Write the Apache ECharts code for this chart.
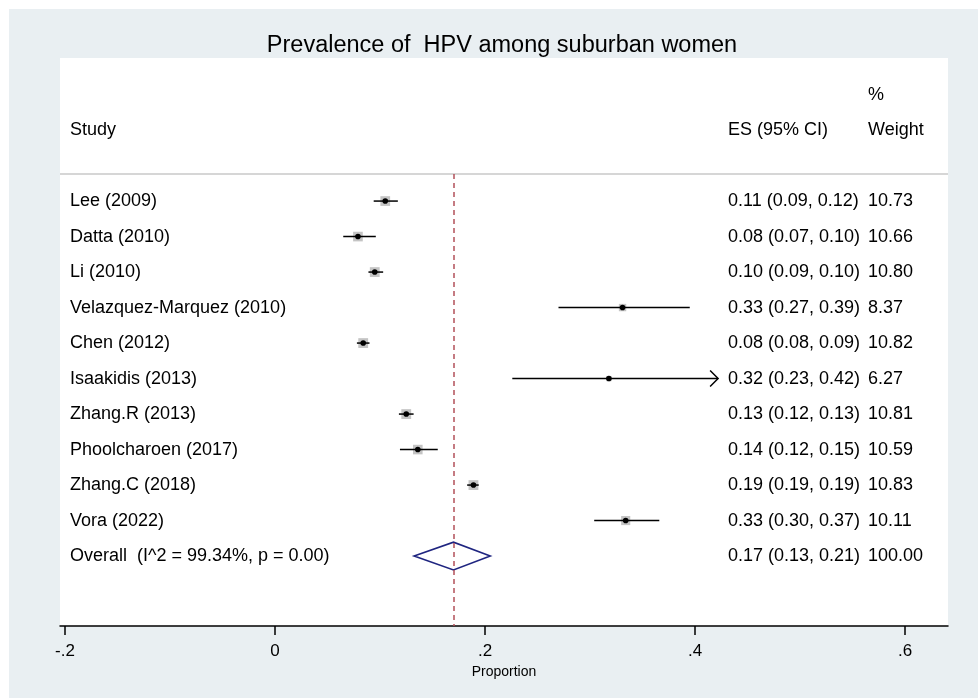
<!DOCTYPE html>
<html><head><meta charset="utf-8">
<script src="https://cdn.jsdelivr.net/npm/echarts@6/dist/echarts.min.js"></script>
<style>
html,body{margin:0;padding:0;background:#fff;}
#c{width:978px;height:698px;background:#e9eff2;box-shadow:inset 9px 9px 0 #fff;}
</style></head>
<body><div id="c"></div>
<script>
// ---- data ----
const studies = ['Lee (2009)','Datta (2010)','Li (2010)','Velazquez-Marquez (2010)','Chen (2012)','Isaakidis (2013)','Zhang.R (2013)','Phoolcharoen (2017)','Zhang.C (2018)','Vora (2022)'];
const es = [0.105,0.079,0.095,0.331,0.084,0.318,0.125,0.136,0.189,0.334];
const lo = [0.094,0.065,0.089,0.270,0.078,0.226,0.118,0.119,0.183,0.304];
const hi = [0.117,0.096,0.103,0.395,0.090,0.440,0.132,0.155,0.194,0.366];
const weights = [10.73,10.66,10.80,8.37,10.82,6.27,10.81,10.59,10.83,10.11];
const esPrinted = ['0.11','0.08','0.10','0.33','0.08','0.32','0.13','0.14','0.19','0.33'];
const loPrinted = ['0.09','0.07','0.09','0.27','0.08','0.23','0.12','0.12','0.19','0.30'];
const hiPrinted = ['0.12','0.10','0.10','0.39','0.09','0.42','0.13','0.15','0.19','0.37'];
const weightPrinted = ['10.73','10.66','10.80','8.37','10.82','6.27','10.81','10.59','10.83','10.11'];
const overallLabel = 'Overall  (I^2 = 99.34%, p = 0.00)';
const overallEs = 0.17, overallLo = 0.1325, overallHi = 0.205;
const overallPrinted = ['0.17','0.13','0.21','100.00'];
const xTicks = [-0.2, 0, 0.2, 0.4, 0.6];
const titleText = 'Prevalence of  HPV among suburban women';
const xName = 'Proportion';

// ---- layout constants ----
const pxPerUnit = 1050;           // 0.2 per 210px
const zeroPx = 275;
const gridL = 60, gridR = 948;
const xMin = (gridL - zeroPx) / pxPerUnit;
const xMax = (gridR - zeroPx) / pxPerUnit;
const plotMax = 0.422;            // CI truncation (arrow)
const studyCol = (70 - zeroPx) / pxPerUnit;
const esCol = (728 - zeroPx) / pxPerUnit;
const wCol = (868 - zeroPx) / pxPerUnit;
const overallRow = studies.length;
const sepRow = -0.76;
const FONT = '"Liberation Sans", Arial, sans-serif';

const textData = [];
studies.forEach((s, i) => {
  textData.push([studyCol, i, s]);
  textData.push([esCol, i, esPrinted[i] + ' (' + loPrinted[i] + ', ' + hiPrinted[i] + ')']);
  textData.push([wCol, i, weightPrinted[i]]);
});
textData.push([studyCol, overallRow, overallLabel]);
textData.push([esCol, overallRow, overallPrinted[0] + ' (' + overallPrinted[1] + ', ' + overallPrinted[2] + ')']);
textData.push([wCol, overallRow, overallPrinted[3]]);
textData.push([studyCol, -2, 'Study']);
textData.push([esCol, -2, 'ES (95% CI)']);
textData.push([wCol, -2, 'Weight']);
textData.push([wCol, -3, '%']);

const ciData = studies.map((s, i) => [i, lo[i], es[i], hi[i], weights[i]]);

const chart = echarts.init(document.getElementById('c'), null, {renderer: 'canvas'});
chart.setOption({
  backgroundColor: 'transparent',
  animation: false,
  title: {
    text: titleText, left: 497, top: 29, textAlign: 'center',
    textStyle: {fontFamily: FONT, fontSize: 23.5, fontWeight: 'normal', color: '#000'}
  },
  grid: {left: gridL, right: 978 - gridR, top: 58, bottom: 72, show: true, backgroundColor: '#fff', borderWidth: 0},
  xAxis: {
    type: 'value', min: xMin, max: xMax,
    splitLine: {show: false},
    axisLine: {show: true, onZero: false, lineStyle: {color: '#000', width: 1.5}},
    axisTick: {show: true, customValues: xTicks, length: 9, lineStyle: {color: '#000', width: 1.5}},
    axisLabel: {
      customValues: xTicks, margin: 17, fontFamily: FONT, fontSize: 17, color: '#000',
      formatter: v => { const r = Math.round(v * 10) / 10; if (r === 0) return '0'; return String(r).replace('0.', '.'); }
    },
    name: xName, nameLocation: 'middle', nameGap: 30,
    nameTextStyle: {fontFamily: FONT, fontSize: 14, color: '#000'}
  },
  yAxis: {type: 'value', min: -4.03, max: 11.97, inverse: true, show: false},
  series: [
    {
      type: 'line', data: [], silent: true,
      markLine: {
        silent: true, symbol: 'none', animation: false,
        label: {show: false},
        data: [
          {yAxis: sepRow, lineStyle: {color: '#c8c8c8', width: 1.5, type: 'solid'}},
          [{coord: [overallEs, sepRow]}, {coord: [overallEs, 11.97]}]
        ],
        lineStyle: {color: '#b3505a', width: 1.5, type: [5, 4]}
      }
    },
    {
      type: 'custom', data: ciData, silent: true,
      encode: {x: [1, 2, 3], y: 0},
      renderItem: (params, api) => {
        const row = api.value(0);
        const pLo = api.coord([api.value(1), row]);
        const pEs = api.coord([api.value(2), row]);
        const h = api.value(3);
        const pHi = api.coord([Math.min(h, plotMax), row]);
        const side = Math.max(api.value(4) - 1.0, 0);
        const children = [
          {type: 'rect', shape: {x: pEs[0] - side / 2, y: pEs[1] - side / 2, width: side, height: side}, style: {fill: '#c4c4c4'}},
          {type: 'line', shape: {x1: pLo[0], y1: pLo[1], x2: pHi[0], y2: pHi[1]}, style: {stroke: '#000', lineWidth: 1.5}},
          {type: 'circle', shape: {cx: pEs[0], cy: pEs[1], r: 2.8}, style: {fill: '#000'}}
        ];
        if (h > plotMax) {
          children.push({type: 'polyline', shape: {points: [[pHi[0] - 8, pHi[1] - 8], [pHi[0], pHi[1]], [pHi[0] - 8, pHi[1] + 8]]}, style: {stroke: '#000', lineWidth: 1.5, fill: null}});
        }
        return {type: 'group', children};
      }
    },
    {
      type: 'custom', data: [[overallRow, overallLo, overallEs, overallHi]], silent: true,
      encode: {x: [1, 2, 3], y: 0},
      renderItem: (params, api) => {
        const row = api.value(0);
        const a = api.coord([api.value(1), row]);
        const b = api.coord([api.value(2), row - 0.39]);
        const c = api.coord([api.value(3), row]);
        const d = api.coord([api.value(2), row + 0.39]);
        return {type: 'polygon', shape: {points: [a, b, c, d]}, style: {stroke: '#1f2580', lineWidth: 1.6, fill: 'rgba(0,0,0,0)'}};
      }
    },
    {
      type: 'scatter', data: textData, symbolSize: 0, silent: true,
      itemStyle: {opacity: 1},
      label: {
        show: true, position: 'right', distance: 0,
        formatter: p => p.value[2],
        fontFamily: FONT, fontSize: 18, color: '#000', opacity: 1
      }
    }
  ]
});
</script></body></html>
